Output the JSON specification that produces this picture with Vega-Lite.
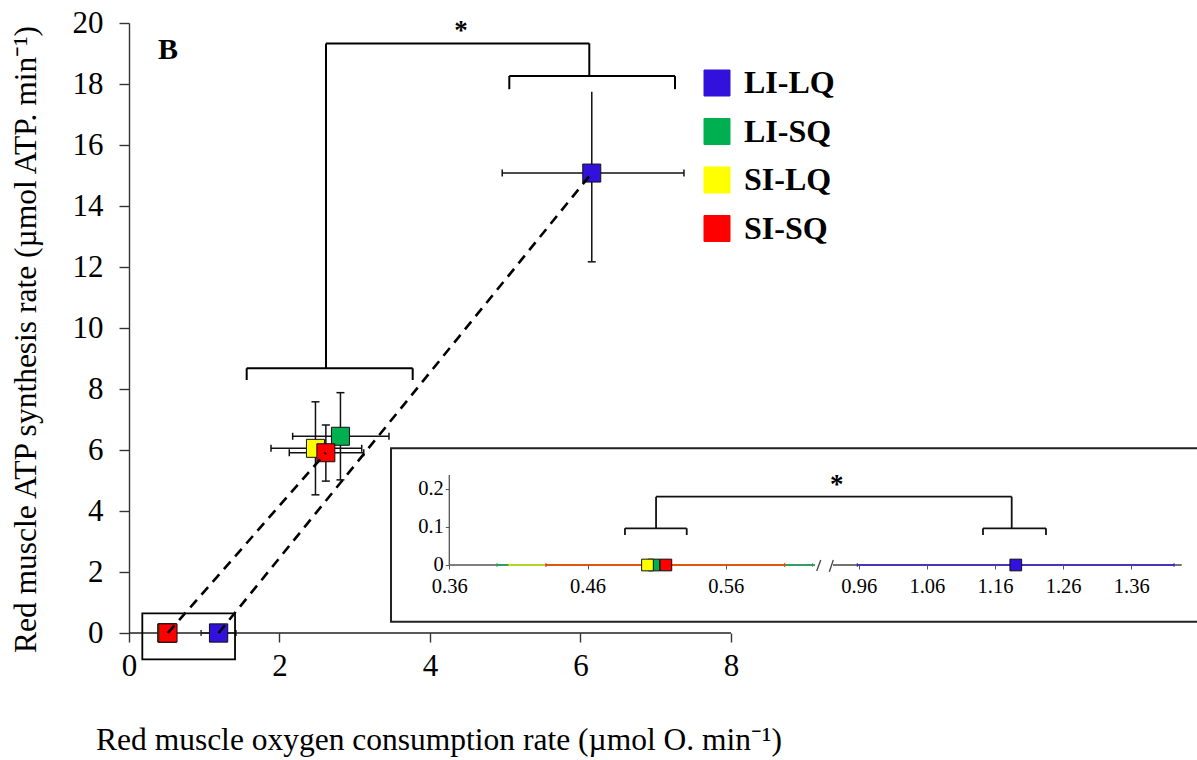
{
  "$schema": "https://vega.github.io/schema/vega-lite/v6.json",
  "width": 1068,
  "height": 610,
  "autosize": {"type": "none"},
  "padding": {"left": 129, "top": 23, "right": 0, "bottom": 127},
  "config": {
    "view": {"stroke": null},
    "font": "Liberation Serif",
    "axis": {"grid": false, "labelFont": "Liberation Serif", "titleFont": "Liberation Serif", "labelColor": "black", "titleColor": "black"}
  },
  "datasets": {
    "main": [
      {"g": "LI-LQ", "x": 6.15, "y": 15.08, "xlo": 4.96, "xhi": 7.375, "ylo": 12.17, "yhi": 17.75},
      {"g": "LI-SQ", "x": 2.81, "y": 6.45, "xlo": 2.175, "xhi": 3.455, "ylo": 5.02, "yhi": 7.88},
      {"g": "SI-LQ", "x": 2.478, "y": 6.055, "xlo": 1.887, "xhi": 3.093, "ylo": 4.53, "yhi": 7.58},
      {"g": "SI-SQ", "x": 2.616, "y": 5.91, "xlo": 2.13, "xhi": 3.12, "ylo": 4.98, "yhi": 6.82}
    ],
    "low": [
      {"g": "LI-LQ", "x": 1.1905, "y": 0, "xlo": 0.958, "xhi": 1.4227},
      {"g": "LI-SQ", "x": 0.5081, "y": 0, "xlo": 0.3945, "xhi": 0.6229},
      {"g": "SI-LQ", "x": 0.5034, "y": 0, "xlo": 0.4032, "xhi": 0.6026},
      {"g": "SI-SQ", "x": 0.5167, "y": 0, "xlo": 0.4299, "xhi": 0.6026}
    ],
    "trend": [
      {"line": "SI", "x": 0.5167, "y": 0},
      {"line": "SI", "x": 2.616, "y": 5.91},
      {"line": "LI", "x": 1.1905, "y": 0},
      {"line": "LI", "x": 6.15, "y": 15.08}
    ],
    "mainAxisLine": [{"x": 0, "x2": 8, "y": 0, "y2": 0}],
    "mainBr": [
      {"x": 1.564, "x2": 3.77, "y": 8.68, "y2": 8.68},
      {"x": 1.564, "x2": 1.564, "y": 8.68, "y2": 8.295},
      {"x": 3.77, "x2": 3.77, "y": 8.68, "y2": 8.295},
      {"x": 2.618, "x2": 2.618, "y": 8.68, "y2": 19.33},
      {"x": 2.618, "x2": 6.117, "y": 19.33, "y2": 19.33},
      {"x": 6.117, "x2": 6.117, "y": 19.33, "y2": 18.26},
      {"x": 5.054, "x2": 7.256, "y": 18.26, "y2": 18.26},
      {"x": 5.054, "x2": 5.054, "y": 18.26, "y2": 17.83},
      {"x": 7.256, "x2": 7.256, "y": 18.26, "y2": 17.83}
    ],
    "mainText": [
      {"t": "B", "x": 0.518, "y": 18.81}
    ],
    "mainStar": [
      {"t": "*", "x": 4.412, "y": 19.46}
    ],
    "zeroBox": [{"x": 0.177, "x2": 1.409, "y": 0.646, "y2": -0.862}],
    "insetBox": [{"x": 3.482, "x2": 14.4, "y": 6.056, "y2": 0.37}],
    "inLAxis": [
      {"x": 0.36, "x2": 0.36, "y": 0, "y2": 0.237},
      {"x": 0.36, "x2": 0.6246, "y": 0, "y2": 0}
    ],
    "inLBr": [
      {"x": 0.4871, "x2": 0.5318, "y": 0.0966, "y2": 0.0966},
      {"x": 0.4871, "x2": 0.4871, "y": 0.0966, "y2": 0.0789},
      {"x": 0.5318, "x2": 0.5318, "y": 0.0966, "y2": 0.0789},
      {"x": 0.5096, "x2": 0.5096, "y": 0.0966, "y2": 0.1797},
      {"x": 0.5096, "x2": 0.6261, "y": 0.1797, "y2": 0.1797}
    ],
    "inRAxis": [
      {"x": 0.9223, "x2": 1.434, "y": 0, "y2": 0},
      {"x": 0.8984, "x2": 0.9043, "y": -0.0158, "y2": 0.0132},
      {"x": 0.9169, "x2": 0.9227, "y": -0.0176, "y2": 0.0132}
    ],
    "inRBr": [
      {"x": 0.8988, "x2": 1.1845, "y": 0.1797, "y2": 0.1797},
      {"x": 1.1845, "x2": 1.1845, "y": 0.1797, "y2": 0.0966},
      {"x": 1.1424, "x2": 1.2348, "y": 0.0966, "y2": 0.0966},
      {"x": 1.1424, "x2": 1.1424, "y": 0.0966, "y2": 0.0789},
      {"x": 1.2348, "x2": 1.2348, "y": 0.0966, "y2": 0.0789}
    ],
    "inRText": [{"t": "*", "x": 0.9277, "y": 0.189}]
  },
  "layer": [
    {
      "layer": [
        {
          "data": {"name": "main"},
          "mark": {"type": "rule", "color": "#111", "strokeWidth": 1.5},
          "encoding": {
            "x": {"field": "xlo", "type": "quantitative",
              "scale": {"domain": [0, 14.193], "nice": false, "zero": false},
              "axis": {"orient": "bottom", "values": [0, 2, 4, 6, 8], "format": "d", "domain": false, "tickSize": 9, "tickColor": "#333", "tickWidth": 1.4, "labelFontSize": 31, "labelPadding": 9, "labelFlush": false, "labelOverlap": false, "title": "Red muscle oxygen consumption rate (µmol O. min⁻¹)", "titleFontSize": 31.5, "titleFontWeight": "normal", "titleX": 309.5, "titleY": 116, "titleAlign": "center", "titleBaseline": "alphabetic"}},
            "x2": {"field": "xhi"},
            "y": {"field": "y", "type": "quantitative",
              "scale": {"domain": [0, 20], "nice": false, "zero": false},
              "axis": {"orient": "left", "values": [0, 2, 4, 6, 8, 10, 12, 14, 16, 18, 20], "format": "d", "domainColor": "#333", "domainWidth": 1.4, "tickSize": 10, "tickColor": "#333", "tickWidth": 1.4, "labelFontSize": 31, "labelPadding": 16, "labelFlush": false, "labelOverlap": false, "title": "Red muscle ATP synthesis rate (µmol ATP. min⁻¹)", "titleFontSize": 31.5, "titleFontWeight": "normal", "titleX": -94, "titleY": 316, "titleAngle": -90, "titleAlign": "center", "titleBaseline": "alphabetic"}}
          }
        },
        {
          "data": {"name": "main"},
          "mark": {"type": "rule", "color": "#111", "strokeWidth": 1.5},
          "encoding": {
            "x": {"field": "x", "type": "quantitative"},
            "y": {"field": "ylo", "type": "quantitative"},
            "y2": {"field": "yhi"}
          }
        },
        {
          "data": {"name": "low"},
          "mark": {"type": "rule", "color": "#111", "strokeWidth": 1.4},
          "encoding": {
            "x": {"field": "xlo", "type": "quantitative"},
            "x2": {"field": "xhi"},
            "y": {"field": "y", "type": "quantitative"}
          }
        },
        {
          "data": {"name": "main"},
          "mark": {"type": "tick", "orient": "vertical", "color": "#111", "size": 7, "thickness": 1.5, "opacity": 1},
          "encoding": {"x": {"field": "xlo", "type": "quantitative"}, "y": {"field": "y", "type": "quantitative"}}
        },
        {
          "data": {"name": "main"},
          "mark": {"type": "tick", "orient": "vertical", "color": "#111", "size": 7, "thickness": 1.5, "opacity": 1},
          "encoding": {"x": {"field": "xhi", "type": "quantitative"}, "y": {"field": "y", "type": "quantitative"}}
        },
        {
          "data": {"name": "main"},
          "mark": {"type": "tick", "orient": "horizontal", "color": "#111", "size": 8, "thickness": 1.5, "opacity": 1},
          "encoding": {"x": {"field": "x", "type": "quantitative"}, "y": {"field": "ylo", "type": "quantitative"}}
        },
        {
          "data": {"name": "main"},
          "transform": [{"filter": "datum.g != 'LI-LQ'"}],
          "mark": {"type": "tick", "orient": "horizontal", "color": "#111", "size": 8, "thickness": 1.5, "opacity": 1},
          "encoding": {"x": {"field": "x", "type": "quantitative"}, "y": {"field": "yhi", "type": "quantitative"}}
        },
        {
          "data": {"name": "low"},
          "mark": {"type": "tick", "orient": "vertical", "color": "#111", "size": 6, "thickness": 1.3, "opacity": 1},
          "encoding": {"x": {"field": "xlo", "type": "quantitative"}, "y": {"field": "y", "type": "quantitative"}}
        },
        {
          "data": {"name": "low"},
          "mark": {"type": "tick", "orient": "vertical", "color": "#111", "size": 6, "thickness": 1.3, "opacity": 1},
          "encoding": {"x": {"field": "xhi", "type": "quantitative"}, "y": {"field": "y", "type": "quantitative"}}
        },
        {
          "data": {"name": "mainAxisLine"},
          "mark": {"type": "rule", "color": "#222", "strokeWidth": 1.4},
          "encoding": {"x": {"field": "x", "type": "quantitative"}, "x2": {"field": "x2"}, "y": {"field": "y", "type": "quantitative"}}
        },
        {
          "data": {"name": "main"},
          "mark": {"type": "point", "shape": "square", "filled": true, "size": 324, "stroke": "#111", "strokeWidth": 1, "opacity": 1},
          "encoding": {
            "x": {"field": "x", "type": "quantitative"},
            "y": {"field": "y", "type": "quantitative"},
            "color": {"field": "g", "type": "nominal",
              "scale": {"domain": ["LI-LQ", "LI-SQ", "SI-LQ", "SI-SQ"], "range": ["#3311dd", "#00b050", "#ffff00", "#ff0000"]},
              "legend": {"title": null, "orient": "none", "legendX": 572, "legendY": 44, "symbolType": "square", "symbolSize": 676, "symbolStrokeColor": "#111", "symbolStrokeWidth": 1, "symbolOpacity": 1, "labelFont": "Liberation Serif", "labelFontWeight": "bold", "labelFontSize": 32, "labelColor": "black", "labelOffset": 11, "rowPadding": 16.5, "padding": 0}}
          }
        },
        {
          "data": {"name": "low"},
          "mark": {"type": "point", "shape": "square", "filled": true, "size": 335, "stroke": "#111", "strokeWidth": 1, "opacity": 1},
          "encoding": {
            "x": {"field": "x", "type": "quantitative"},
            "y": {"field": "y", "type": "quantitative"},
            "color": {"field": "g", "type": "nominal"}
          }
        },
        {
          "data": {"name": "trend"},
          "mark": {"type": "line", "color": "black", "strokeWidth": 2.6, "strokeDash": [10, 7]},
          "encoding": {
            "x": {"field": "x", "type": "quantitative"},
            "y": {"field": "y", "type": "quantitative"},
            "detail": {"field": "line"}
          }
        },
        {
          "data": {"name": "mainBr"},
          "mark": {"type": "rule", "color": "black", "strokeWidth": 2},
          "encoding": {
            "x": {"field": "x", "type": "quantitative"}, "x2": {"field": "x2"},
            "y": {"field": "y", "type": "quantitative"}, "y2": {"field": "y2"}
          }
        },
        {
          "data": {"name": "mainText"},
          "mark": {"type": "text", "font": "Liberation Serif", "fontWeight": "bold", "fontSize": 30, "align": "center", "baseline": "alphabetic", "color": "black"},
          "encoding": {
            "x": {"field": "x", "type": "quantitative"},
            "y": {"field": "y", "type": "quantitative"},
            "text": {"field": "t"}
          }
        },
        {
          "data": {"name": "mainStar"},
          "mark": {"type": "text", "font": "Liberation Serif", "fontWeight": "bold", "fontSize": 27, "align": "center", "baseline": "alphabetic", "color": "black"},
          "encoding": {
            "x": {"field": "x", "type": "quantitative"},
            "y": {"field": "y", "type": "quantitative"},
            "text": {"field": "t"}
          }
        },
        {
          "data": {"name": "zeroBox"},
          "mark": {"type": "rect", "fillOpacity": 0, "stroke": "black", "strokeWidth": 1.8},
          "encoding": {
            "x": {"field": "x", "type": "quantitative"}, "x2": {"field": "x2"},
            "y": {"field": "y", "type": "quantitative"}, "y2": {"field": "y2"}
          }
        },
        {
          "data": {"name": "insetBox"},
          "mark": {"type": "rect", "fill": "white", "stroke": "#222", "strokeWidth": 2},
          "encoding": {
            "x": {"field": "x", "type": "quantitative"}, "x2": {"field": "x2"},
            "y": {"field": "y", "type": "quantitative"}, "y2": {"field": "y2"}
          }
        }
      ]
    },
    {
      "layer": [
        {
          "data": {"name": "inLAxis"},
          "mark": {"type": "rule", "color": "#555", "strokeWidth": 1.3},
          "encoding": {
            "x": {"field": "x", "type": "quantitative",
              "scale": {"domain": [0.12823, 0.90102], "nice": false, "zero": false},
              "axis": {"orient": "bottom", "offset": -68, "zindex": 2, "values": [0.36, 0.46, 0.56], "format": ".2f", "domain": false, "tickSize": 4, "tickColor": "#555", "labelFontSize": 20.5, "labelPadding": 7, "labelFlush": false, "labelOverlap": false, "title": null}},
            "x2": {"field": "x2"},
            "y": {"field": "y", "type": "quantitative",
              "scale": {"domain": [-0.17895, 1.42632], "nice": false, "zero": false},
              "axis": {"orient": "left", "offset": -320.3, "zindex": 2, "values": [0, 0.1, 0.2], "format": "~g", "domain": false, "tickSize": 4, "tickColor": "#555", "labelFontSize": 20.5, "labelPadding": 2, "labelFlush": false, "labelOverlap": false, "title": null}},
            "y2": {"field": "y2"}
          }
        },
        {
          "data": {"name": "low"},
          "transform": [{"filter": "datum.g != 'LI-LQ'"}],
          "mark": {"type": "rule", "strokeWidth": 2, "opacity": 0.6},
          "encoding": {
            "x": {"field": "xlo", "type": "quantitative"}, "x2": {"field": "xhi"},
            "y": {"field": "y", "type": "quantitative"},
            "color": {"field": "g", "type": "nominal", "legend": null}
          }
        },
        {
          "data": {"name": "low"},
          "transform": [{"filter": "datum.g != 'LI-LQ'"}],
          "mark": {"type": "tick", "orient": "vertical", "size": 4, "thickness": 1.2, "opacity": 0.7},
          "encoding": {
            "x": {"field": "xlo", "type": "quantitative"},
            "y": {"field": "y", "type": "quantitative"},
            "color": {"field": "g", "type": "nominal", "legend": null}
          }
        },
        {
          "data": {"name": "low"},
          "transform": [{"filter": "datum.g != 'LI-LQ'"}],
          "mark": {"type": "tick", "orient": "vertical", "size": 4, "thickness": 1.2, "opacity": 0.7},
          "encoding": {
            "x": {"field": "xhi", "type": "quantitative"},
            "y": {"field": "y", "type": "quantitative"},
            "color": {"field": "g", "type": "nominal", "legend": null}
          }
        },
        {
          "data": {"name": "low"},
          "transform": [{"filter": "datum.g != 'LI-LQ'"}],
          "mark": {"type": "point", "shape": "square", "filled": true, "size": 137, "stroke": "#111", "strokeWidth": 1, "opacity": 1},
          "encoding": {
            "x": {"field": "x", "type": "quantitative"},
            "y": {"field": "y", "type": "quantitative"},
            "color": {"field": "g", "type": "nominal", "legend": null}
          }
        },
        {
          "data": {"name": "inLBr"},
          "mark": {"type": "rule", "color": "#111", "strokeWidth": 1.8},
          "encoding": {
            "x": {"field": "x", "type": "quantitative"}, "x2": {"field": "x2"},
            "y": {"field": "y", "type": "quantitative"}, "y2": {"field": "y2"}
          }
        }
      ]
    },
    {
      "layer": [
        {
          "data": {"name": "inRAxis"},
          "mark": {"type": "rule", "color": "#444", "strokeWidth": 1.3},
          "encoding": {
            "x": {"field": "x", "type": "quantitative",
              "scale": {"domain": [-0.11073, 1.4564], "nice": false, "zero": false},
              "axis": {"orient": "bottom", "offset": -68, "zindex": 2, "values": [0.96, 1.06, 1.16, 1.26, 1.36], "format": ".2f", "domain": false, "tickSize": 4, "tickColor": "#555", "labelFontSize": 20.5, "labelPadding": 7, "labelFlush": false, "labelOverlap": false, "title": null}},
            "x2": {"field": "x2"},
            "y": {"field": "y", "type": "quantitative",
              "scale": {"domain": [-0.17895, 1.42632], "nice": false, "zero": false},
              "axis": null},
            "y2": {"field": "y2"}
          }
        },
        {
          "data": {"name": "low"},
          "transform": [{"filter": "datum.g == 'LI-LQ'"}],
          "mark": {"type": "rule", "strokeWidth": 2, "opacity": 0.65},
          "encoding": {
            "x": {"field": "xlo", "type": "quantitative"}, "x2": {"field": "xhi"},
            "y": {"field": "y", "type": "quantitative"},
            "color": {"field": "g", "type": "nominal", "legend": null}
          }
        },
        {
          "data": {"name": "low"},
          "transform": [{"filter": "datum.g == 'LI-LQ'"}],
          "mark": {"type": "tick", "orient": "vertical", "size": 4, "thickness": 1.2, "opacity": 0.7},
          "encoding": {
            "x": {"field": "xlo", "type": "quantitative"},
            "y": {"field": "y", "type": "quantitative"},
            "color": {"field": "g", "type": "nominal", "legend": null}
          }
        },
        {
          "data": {"name": "low"},
          "transform": [{"filter": "datum.g == 'LI-LQ'"}],
          "mark": {"type": "tick", "orient": "vertical", "size": 4, "thickness": 1.2, "opacity": 0.7},
          "encoding": {
            "x": {"field": "xhi", "type": "quantitative"},
            "y": {"field": "y", "type": "quantitative"},
            "color": {"field": "g", "type": "nominal", "legend": null}
          }
        },
        {
          "data": {"name": "low"},
          "transform": [{"filter": "datum.g == 'LI-LQ'"}],
          "mark": {"type": "point", "shape": "square", "filled": true, "size": 137, "stroke": "#111", "strokeWidth": 1, "opacity": 1},
          "encoding": {
            "x": {"field": "x", "type": "quantitative"},
            "y": {"field": "y", "type": "quantitative"},
            "color": {"field": "g", "type": "nominal", "legend": null}
          }
        },
        {
          "data": {"name": "inRBr"},
          "mark": {"type": "rule", "color": "#111", "strokeWidth": 1.8},
          "encoding": {
            "x": {"field": "x", "type": "quantitative"}, "x2": {"field": "x2"},
            "y": {"field": "y", "type": "quantitative"}, "y2": {"field": "y2"}
          }
        },
        {
          "data": {"name": "inRText"},
          "mark": {"type": "text", "font": "Liberation Serif", "fontWeight": "bold", "fontSize": 27, "align": "center", "baseline": "alphabetic", "color": "black"},
          "encoding": {
            "x": {"field": "x", "type": "quantitative"},
            "y": {"field": "y", "type": "quantitative"},
            "text": {"field": "t"}
          }
        }
      ]
    }
  ],
  "resolve": {"scale": {"x": "independent", "y": "independent"}}
}
